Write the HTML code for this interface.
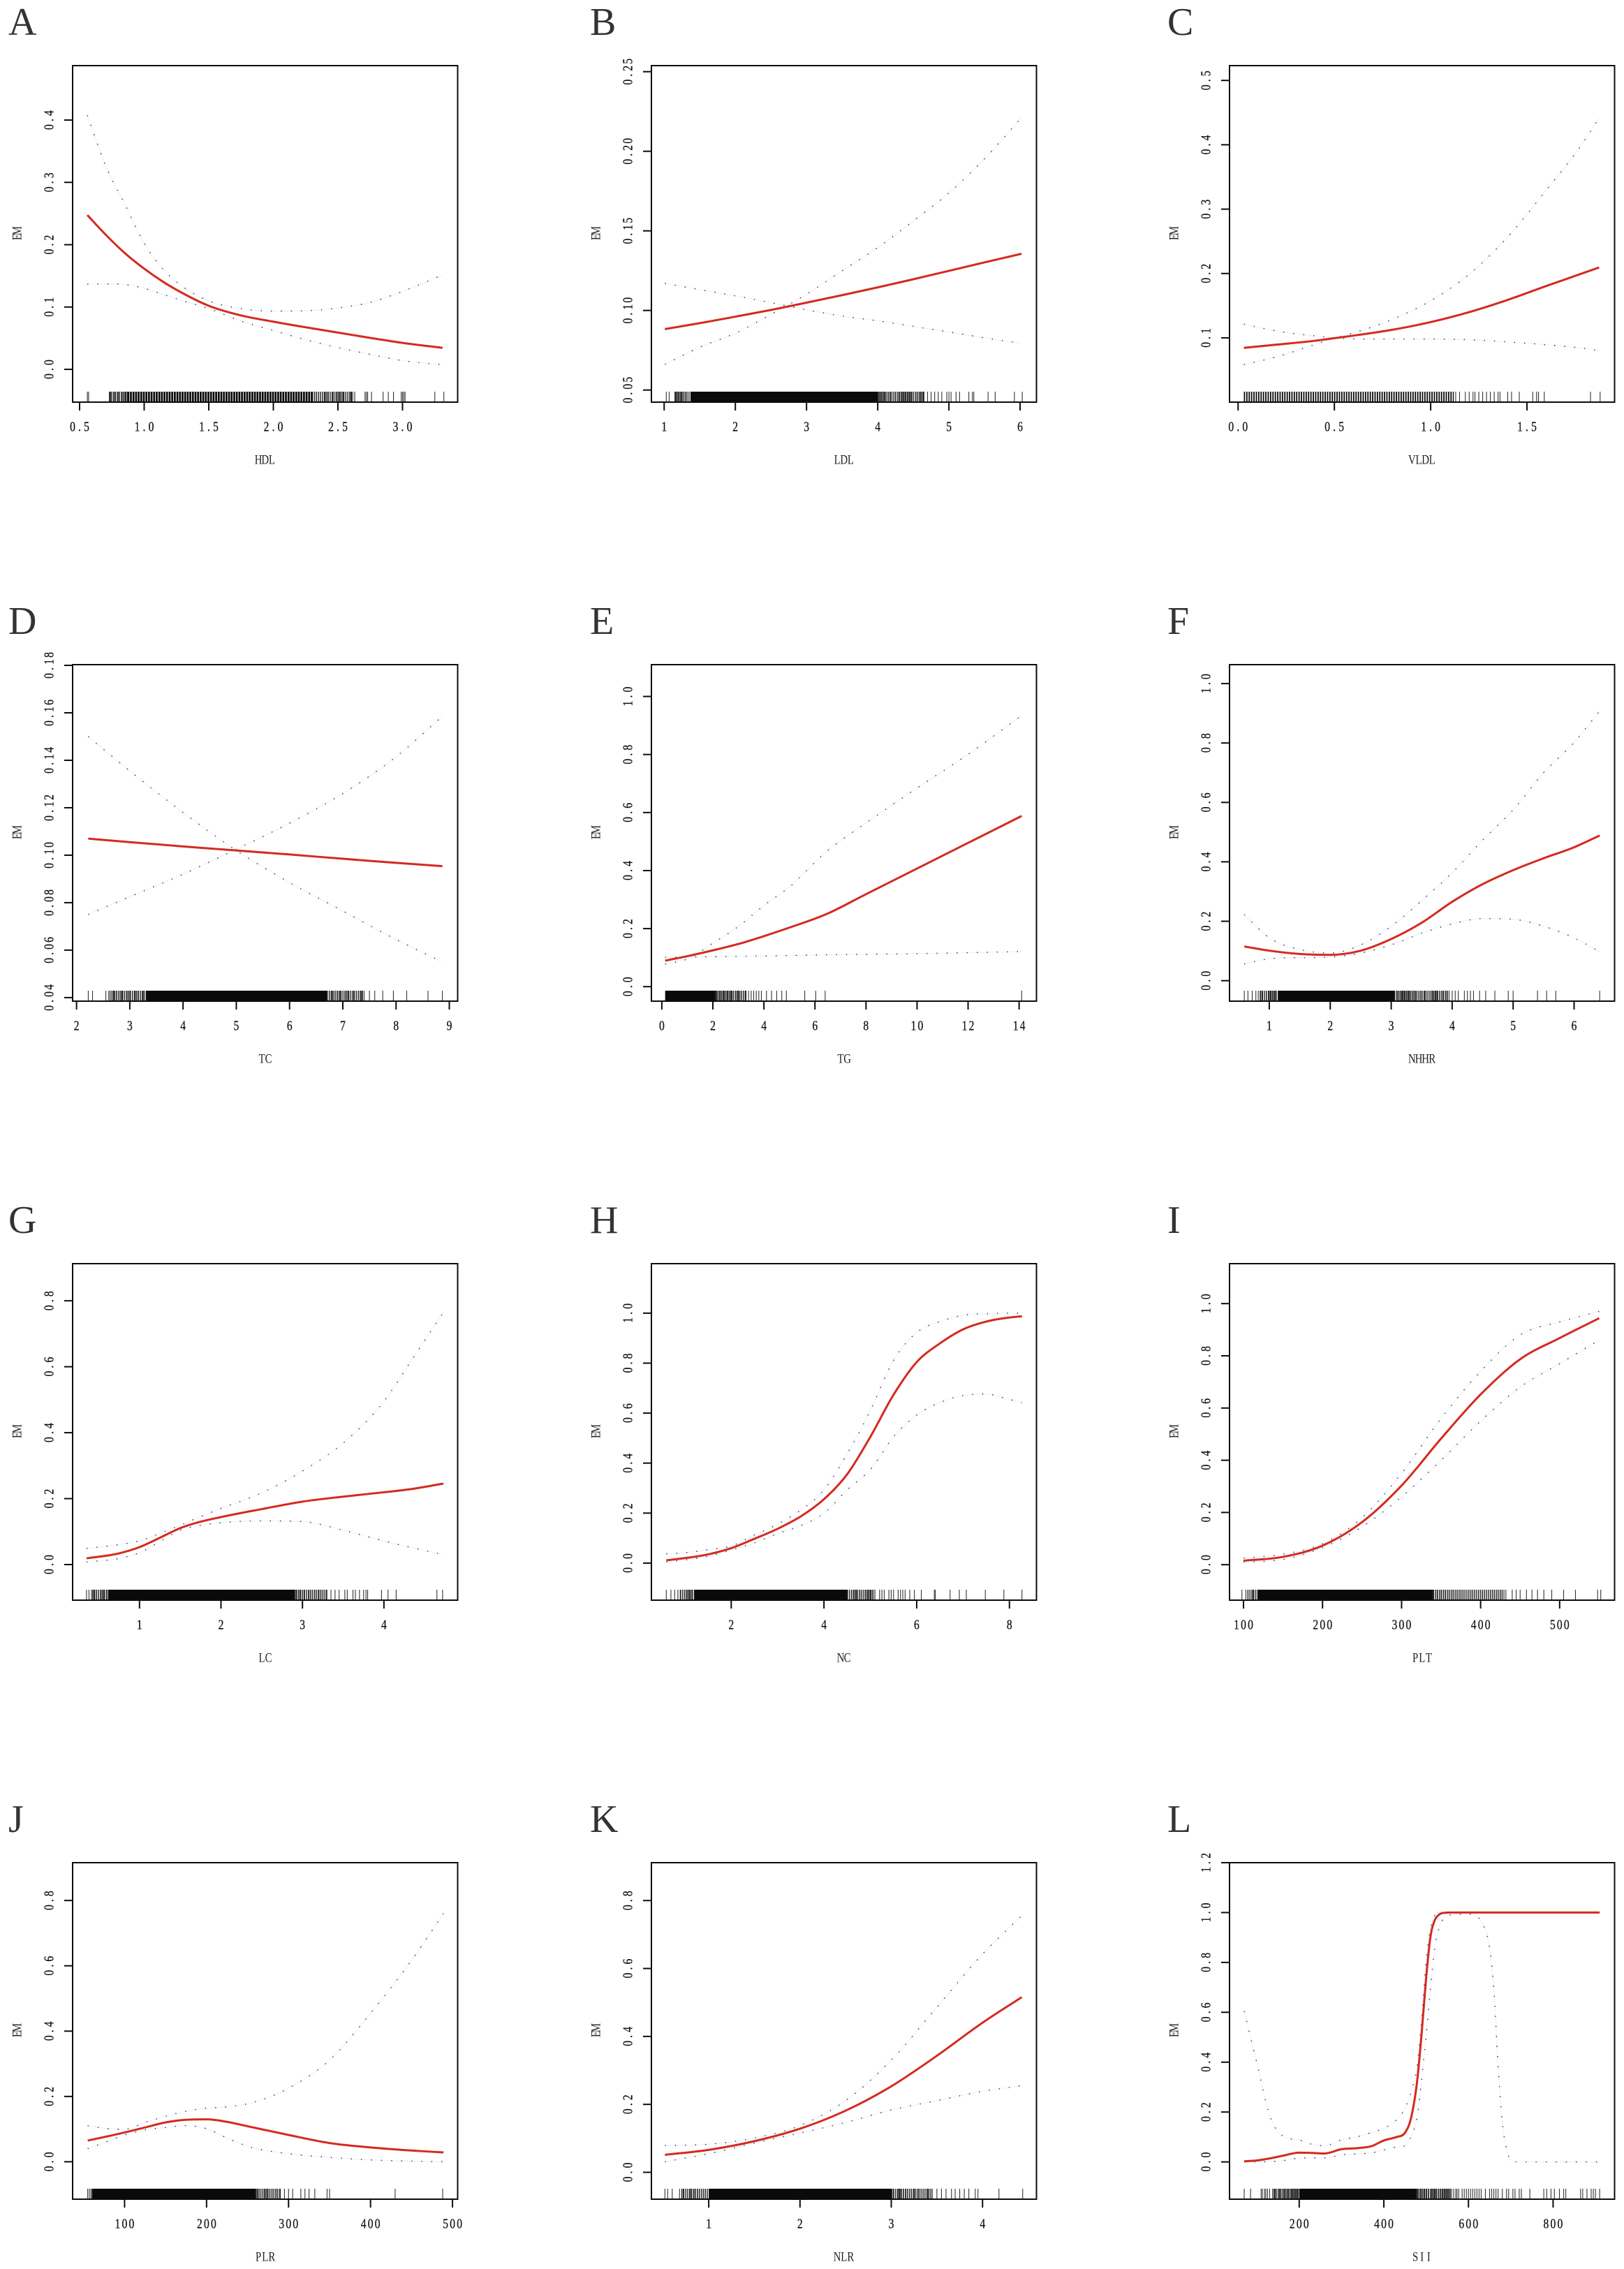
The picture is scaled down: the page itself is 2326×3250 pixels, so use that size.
<!DOCTYPE html>
<html lang="en">
<head>
<meta charset="utf-8">
<title>EM restricted cubic spline panels</title>
<style>
html,body{margin:0;padding:0;background:#fff}
svg{display:block}
text{font-family:"Liberation Serif",serif}
</style>
</head>
<body>
<svg id="figure" xmlns="http://www.w3.org/2000/svg" width="2326" height="3250" viewBox="0 0 2326 3250">
<rect x="0" y="0" width="2326" height="3250" fill="#ffffff"/>
</svg>
<script>
/* ---------- A: HDL ---------- */
const hdlXLim=[0.446,3.427];
const hdlYLim=[-0.0526,0.4873];
const hdlXTicks=['0.5','1.0','1.5','2.0','2.5','3.0'];
const hdlYTicks=['0.0','0.1','0.2','0.3','0.4'];
const hdlX=[0.56,0.7,0.85,1.0,1.15,1.3,1.5,1.75,2,2.25,2.5,2.75,3,3.31];
const hdlFit=[0.2475,0.2165,0.1865,0.1615,0.14,0.122,0.102,0.0865,0.0765,0.0675,0.0590,0.0505,0.0425,0.0345];
const hdlUpper=[0.4075,0.3275,0.265,0.2025,0.16,0.1325,0.11,0.0975,0.0935,0.094,0.0985,0.1075,0.125,0.1515];
const hdlLower=[0.1365,0.137,0.136,0.13,0.12,0.11,0.0975,0.0775,0.0625,0.0475,0.035,0.024,0.014,0.0075];
const hdlRug=[0.56,0.57,0.73,0.74,0.75,0.77,0.78,0.80,0.81,0.83,0.85,0.86,2.32,2.35,2.38,2.40,2.41,2.42,2.44,2.46,2.47,2.49,2.51,2.52,2.53,2.54,2.56,2.59,2.60,2.61,2.63,2.71,2.72,2.73,2.76,2.85,2.89,2.93,2.99,3.0,3.01,3.02,3.25,3.32];
const hdlBands=[[0.87,2.30]];
const hdlFringes=[[0.73,0.87],[2.3,2.62]];

/* ---------- B: LDL ---------- */
const ldlXLim=[0.821,6.23];
const ldlYLim=[0.0424,0.2538];
const ldlXTicks=['1','2','3','4','5','6'];
const ldlYTicks=['0.05','0.10','0.15','0.20','0.25'];
const ldlX=[1.01,1.5,2,2.5,3,3.5,4,4.5,5,5.5,6.02];
const ldlFit=[0.0883,0.092,0.0961,0.1003,0.1049,0.1096,0.1145,0.1196,0.1249,0.1302,0.1356];
const ldlUpper=[0.0661,0.0769,0.0857,0.0975,0.1102,0.1249,0.1395,0.1562,0.1738,0.1953,0.2211];
const ldlLower=[0.117,0.1131,0.1092,0.1049,0.1004,0.0965,0.0935,0.09,0.0865,0.0828,0.0793];
const ldlRug=[1.03,1.07,1.15,1.17,1.2,1.23,1.25,1.27,1.3,1.32,1.35,4.02,4.05,4.08,4.1,4.12,4.15,4.18,4.2,4.23,4.25,4.28,4.3,4.33,4.35,4.38,4.4,4.43,4.46,4.48,4.5,4.55,4.58,4.6,4.63,4.65,4.7,4.75,4.8,4.85,4.9,4.97,5.0,5.03,5.1,5.15,5.28,5.33,5.35,5.55,5.65,5.92,6.03];
const ldlBands=[[1.37,4.0]];
const ldlFringes=[[1.15,1.37],[4.0,4.65]];

/* ---------- C: VLDL ---------- */
const vldlXLim=[-0.0445,1.955];
const vldlYLim=[0.0001,0.523];
const vldlXTicks=['0.0','0.5','1.0','1.5'];
const vldlYTicks=['0.1','0.2','0.3','0.4','0.5'];
const vldlX=[0.03,0.2,0.4,0.5,0.6,0.8,1,1.2,1.4,1.6,1.8,1.875];
const vldlFit=[0.0845,0.0895,0.0955,0.0995,0.1035,0.1125,0.1245,0.14,0.159,0.1805,0.2015,0.2094];
const vldlUpper=[0.0584,0.0705,0.0898,0.0995,0.1077,0.1286,0.1576,0.1988,0.2569,0.3295,0.407,0.4419];
const vldlLower=[0.1213,0.1107,0.1029,0.1,0.0985,0.0981,0.0981,0.0971,0.0937,0.0893,0.0835,0.0801];
const vldlRug=[1.13,1.15,1.18,1.2,1.22,1.23,1.25,1.27,1.29,1.31,1.33,1.35,1.36,1.4,1.42,1.46,1.53,1.55,1.56,1.59,1.83,1.88];
const vldlBands=[[0.03,1.12]];
const vldlFringes=[];

/* ---------- D: TC ---------- */
const tcXLim=[1.926,9.157];
const tcYLim=[0.0385,0.1803];
const tcXTicks=['2','3','4','5','6','7','8','9'];
const tcYTicks=['0.04','0.06','0.08','0.10','0.12','0.14','0.16','0.18'];
const tcX=[2.22,3,4,5,6,7,8,8.87];
const tcFit=[0.107,0.1055,0.1037,0.102,0.1003,0.0985,0.0968,0.0954];
const tcUpper=[0.075,0.0825,0.092,0.1025,0.1135,0.126,0.1415,0.1585];
const tcLower=[0.15,0.1355,0.118,0.102,0.0885,0.0765,0.0645,0.055];
const tcRug=[2.22,2.3,2.55,2.65,2.7,2.75,2.8,2.85,2.9,2.95,3,3.05,3.1,3.15,3.2,3.25,6.75,6.8,6.85,6.9,6.95,7,7.05,7.1,7.15,7.2,7.3,7.35,7.4,7.5,7.6,7.75,7.95,8.2,8.6,8.87];
const tcBands=[[3.3,6.7]];
const tcFringes=[[2.6,3.3],[6.7,7.4]];

/* ---------- E: TG ---------- */
const tgXLim=[-0.408,14.68];
const tgYLim=[-0.05,1.1096];
const tgXTicks=['0','2','4','6','8','10','12','14'];
const tgYTicks=['0.0','0.2','0.4','0.6','0.8','1.0'];
const tgX=[0.13,1,2,3,4,5,6.43,8,10,12,14.1];
const tgFit=[0.0897,0.105,0.125,0.147,0.174,0.2035,0.2492,0.3186,0.407,0.4954,0.5881];
const tgUpper=[0.0777,0.0954,0.1498,0.2075,0.2796,0.3438,0.4639,0.5641,0.6843,0.8005,0.9343];
const tgLower=[0.101,0.1018,0.1034,0.1042,0.1058,0.1074,0.1098,0.1114,0.1138,0.117,0.121];
const tgRug=[2.15,2.2,2.25,2.3,2.35,2.4,2.45,2.5,2.55,2.6,2.65,2.7,2.75,2.8,2.9,2.95,3.0,3.1,3.2,3.3,3.4,3.5,3.6,3.7,3.8,3.9,4.1,4.3,4.5,4.7,4.88,5.6,6.03,6.4,14.1];
const tgBands=[[0.13,2.1]];
const tgFringes=[[2.1,3.3]];

/* ---------- F: NHHR ---------- */
const nhhrXLim=[0.348,6.664];
const nhhrYLim=[-0.0689,1.0637];
const nhhrXTicks=['1','2','3','4','5','6'];
const nhhrYTicks=['0.0','0.2','0.4','0.6','0.8','1.0'];
const nhhrX=[0.59,1,1.5,2,2.5,3,3.5,4,4.5,5,5.5,6,6.42];
const nhhrFit=[0.1151,0.1010,0.0900,0.0869,0.1010,0.1402,0.1950,0.2655,0.325,0.372,0.412,0.449,0.4886];
const nhhrUpper=[0.2224,0.1441,0.1049,0.0932,0.1206,0.1832,0.2694,0.3634,0.473,0.5748,0.7001,0.8019,0.9076];
const nhhrLower=[0.0564,0.0736,0.0775,0.0791,0.0932,0.1206,0.1597,0.1911,0.2091,0.2067,0.1832,0.1441,0.0971];
const nhhrRug=[0.59,0.65,0.72,0.78,0.82,0.85,0.88,0.92,0.95,1.0,1.03,1.07,1.1,3.1,3.13,3.17,3.2,3.23,3.27,3.3,3.34,3.37,3.4,3.44,3.47,3.5,3.55,3.6,3.64,3.68,3.72,3.75,3.8,3.85,3.9,3.95,4,4.05,4.1,4.2,4.25,4.3,4.35,4.45,4.55,4.7,4.92,5,5.4,5.55,5.7,6.42];
const nhhrBands=[[1.15,3.05]];
const nhhrFringes=[[0.85,1.15],[3.05,3.95]];

/* ---------- G: LC ---------- */
const lcXLim=[0.179,4.905];
const lcYLim=[-0.108,0.9126];
const lcXTicks=['1','2','3','4'];
const lcYTicks=['0.0','0.2','0.4','0.6','0.8'];
const lcX=[0.35,0.75,1,1.25,1.5,1.75,2,2.5,3,3.5,4,4.35,4.73];
const lcFit=[0.0189,0.034,0.0529,0.0813,0.1105,0.13,0.144,0.1682,0.1909,0.206,0.2193,0.2295,0.2457];
const lcUpper=[0.0491,0.0605,0.0718,0.0945,0.1191,0.1456,0.1701,0.2174,0.2836,0.3686,0.4953,0.6238,0.7656];
const lcLower=[0.0076,0.0189,0.0359,0.0699,0.104,0.1191,0.1267,0.1323,0.1304,0.104,0.0718,0.051,0.0302];
const lcRug=[0.35,0.38,0.41,0.44,0.47,0.5,0.53,0.56,0.6,2.92,2.95,2.97,3,3.02,3.05,3.08,3.12,3.15,3.2,3.22,3.3,3.35,3.4,3.45,3.52,3.55,3.62,3.65,3.7,3.75,3.78,3.8,3.97,4.05,4.15,4.65,4.72];
const lcBands=[[0.62,2.9]];
const lcFringes=[[0.42,0.62],[2.9,3.3]];

/* ---------- H: NC ---------- */
const ncXLim=[0.279,8.583];
const ncYLim=[-0.1483,1.198];
const ncXTicks=['2','4','6','8'];
const ncYTicks=['0.0','0.2','0.4','0.6','0.8','1.0'];
const ncX=[0.6,1,1.5,2,2.5,3,3.5,4,4.5,5,5.5,6,6.5,7,7.5,8,8.27];
const ncFit=[0.0112,0.02,0.0349,0.0599,0.0973,0.1372,0.187,0.2556,0.3554,0.505,0.6733,0.8042,0.879,0.9352,0.9663,0.9825,0.9875];
const ncUpper=[0.0374,0.0411,0.0536,0.0686,0.1122,0.1559,0.212,0.293,0.4364,0.611,0.8105,0.9227,0.9663,0.9913,0.9975,1,1];
const ncLower=[0.005,0.0125,0.0274,0.0524,0.081,0.1185,0.1496,0.1995,0.293,0.3741,0.505,0.5923,0.6421,0.6708,0.6758,0.6546,0.6421];
const ncRug=[0.6,0.7,0.78,0.85,0.9,0.95,1,1.05,1.1,1.15,4.55,4.6,4.65,4.7,4.8,4.85,4.9,4.95,5,5.05,5.1,5.2,5.25,5.3,5.4,5.45,5.5,5.6,5.65,5.7,5.75,5.85,5.95,6.1,6.38,6.4,6.72,6.92,7.07,7.48,7.88,8.27];
const ncBands=[[1.2,4.5]];
const ncFringes=[[0.9,1.2],[4.5,5.1]];

/* ---------- I: PLT ---------- */
const pltXLim=[82.3,569.5];
const pltYLim=[-0.136,1.153];
const pltXTicks=['100','200','300','400','500'];
const pltYTicks=['0.0','0.2','0.4','0.6','0.8','1.0'];
const pltX=[100,150,200,250,300,350,400,450,500,550];
const pltFit=[0.015,0.03,0.073,0.163,0.303,0.483,0.652,0.787,0.868,0.944];
const pltUpper=[0.025,0.04,0.08,0.18,0.35,0.56,0.74,0.88,0.93,0.97];
const pltLower=[0.01,0.02,0.065,0.145,0.26,0.40,0.55,0.68,0.77,0.86];
const pltRug=[98,103,108,112,345,350,355,360,365,370,375,380,385,390,395,400,405,410,415,420,425,432,440,445,450,458,465,472,480,490,505,520,548,552];
const pltBands=[[118,340]];
const pltFringes=[[105,118],[340,430]];

/* ---------- J: PLR ---------- */
const plrXLim=[36.6,506.3];
const plrYLim=[-0.1146,0.9158];
const plrXTicks=['100','200','300','400','500'];
const plrYTicks=['0.0','0.2','0.4','0.6','0.8'];
const plrX=[55,80,100,125,150,175,200,225,250,300,350,400,450,489];
const plrFit=[0.0649,0.0783,0.0897,0.105,0.1205,0.1285,0.1298,0.1222,0.1088,0.0821,0.0573,0.0439,0.0344,0.0286];
const plrUpper=[0.1107,0.1012,0.0993,0.1203,0.1394,0.1547,0.1642,0.168,0.1776,0.2253,0.3112,0.4544,0.6167,0.7599];
const plrLower=[0.0401,0.063,0.0821,0.0974,0.105,0.1107,0.1012,0.0726,0.0477,0.0248,0.0134,0.0057,0.0019,0];
const plrRug=[55,57,59,262,265,268,271,274,277,280,282,285,290,295,300,305,315,320,325,332,347,350,430,488];
const plrBands=[[60,260]];
const plrFringes=[[260,290]];

/* ---------- K: NLR ---------- */
const nlrXLim=[0.372,4.591];
const nlrYLim=[-0.0791,0.9115];
const nlrXTicks=['1','2','3','4'];
const nlrYTicks=['0.0','0.2','0.4','0.6','0.8'];
const nlrX=[0.52,1,1.5,2,2.5,3,3.5,4,4.43];
const nlrFit=[0.0514,0.0661,0.0917,0.1284,0.1815,0.2532,0.3431,0.4404,0.5156];
const nlrUpper=[0.0789,0.0826,0.1009,0.1376,0.211,0.3303,0.4862,0.6422,0.756];
const nlrLower=[0.0312,0.055,0.0862,0.1156,0.1468,0.1835,0.211,0.2385,0.255];
const nlrRug=[0.52,0.55,0.6,0.68,0.72,0.75,0.8,0.84,0.88,0.92,0.96,3.02,3.05,3.08,3.1,3.13,3.16,3.2,3.25,3.3,3.35,3.4,3.45,3.5,3.55,3.6,3.66,3.7,3.75,3.8,3.85,3.92,3.95,4.18,4.44];
const nlrBands=[[1.0,3.0]];
const nlrFringes=[[0.7,1.0],[3.0,3.45]];

/* ---------- L: SII ---------- */
const siiXLim=[35.3,945.3];
const siiYLim=[-0.1495,1.2];
const siiXTicks=['200','400','600','800'];
const siiYTicks=['0.0','0.2','0.4','0.6','0.8','1.0','1.2'];
const siiX=[70,100,130,160,200,230,260,300,340,370,400,430,450,465,480,490,500,510,520,530,545,560,600,640,660,670,680,690,700,720,800,910];
const siiFit=[0.0023,0.0058,0.0139,0.0244,0.0371,0.036,0.0337,0.051,0.0557,0.0627,0.0859,0.0998,0.1172,0.181,0.3435,0.5292,0.7381,0.9006,0.9679,0.991,0.9992,1,1,1,1,1,1,1,1,1,1,1];
const siiUpper=[0.6046,0.3957,0.1868,0.1056,0.0882,0.0708,0.065,0.0882,0.1021,0.1172,0.1346,0.1694,0.2159,0.2855,0.4015,0.5872,0.8077,0.9354,0.9876,0.9992,1,1,1,1,1,1,1,1,1,1,1,1];
const siiLower=[0,0,0.0012,0.0046,0.0151,0.0162,0.0162,0.0279,0.0325,0.036,0.0476,0.0592,0.065,0.1056,0.1926,0.3435,0.506,0.6917,0.8541,0.9354,0.9818,0.9911,0.9934,0.9296,0.6917,0.3899,0.1578,0.0534,0.007,0,0,0];
const siiRug=[70,85,110,113,118,121,125,130,137,140,143,146,150,153,156,160,163,166,169,172,175,178,181,185,188,190,193,195,198,480,483,486,489,492,495,500,505,510,513,518,522,525,530,535,540,545,550,555,560,565,570,573,577,585,590,595,600,605,610,615,620,625,630,640,650,655,660,665,670,680,690,695,705,710,720,725,745,778,785,795,803,815,825,830,865,870,880,890,895,900,910];
const siiBands=[[200,477]];
const siiFringes=[[140,200],[477,560]];

/* ---------- panel registry ---------- */
const panels=[
 {letter:'A',title:'HDL',col:0,row:0,hatch:'2.7 1',xLim:hdlXLim,yLim:hdlYLim,xTicks:hdlXTicks,yTicks:hdlYTicks,x:hdlX,fit:hdlFit,upper:hdlUpper,lower:hdlLower,rug:hdlRug,bands:hdlBands,fringes:hdlFringes},
 {letter:'B',title:'LDL',col:1,row:0,hatch:'',xLim:ldlXLim,yLim:ldlYLim,xTicks:ldlXTicks,yTicks:ldlYTicks,x:ldlX,fit:ldlFit,upper:ldlUpper,lower:ldlLower,rug:ldlRug,bands:ldlBands,fringes:ldlFringes},
 {letter:'C',title:'VLDL',col:2,row:0,hatch:'1.8 1.6',xLim:vldlXLim,yLim:vldlYLim,xTicks:vldlXTicks,yTicks:vldlYTicks,x:vldlX,fit:vldlFit,upper:vldlUpper,lower:vldlLower,rug:vldlRug,bands:vldlBands,fringes:vldlFringes},
 {letter:'D',title:'TC',col:0,row:1,hatch:'',xLim:tcXLim,yLim:tcYLim,xTicks:tcXTicks,yTicks:tcYTicks,x:tcX,fit:tcFit,upper:tcUpper,lower:tcLower,rug:tcRug,bands:tcBands,fringes:tcFringes},
 {letter:'E',title:'TG',col:1,row:1,hatch:'',xLim:tgXLim,yLim:tgYLim,xTicks:tgXTicks,yTicks:tgYTicks,x:tgX,fit:tgFit,upper:tgUpper,lower:tgLower,rug:tgRug,bands:tgBands,fringes:tgFringes},
 {letter:'F',title:'NHHR',col:2,row:1,hatch:'',xLim:nhhrXLim,yLim:nhhrYLim,xTicks:nhhrXTicks,yTicks:nhhrYTicks,x:nhhrX,fit:nhhrFit,upper:nhhrUpper,lower:nhhrLower,rug:nhhrRug,bands:nhhrBands,fringes:nhhrFringes},
 {letter:'G',title:'LC',col:0,row:2,hatch:'',xLim:lcXLim,yLim:lcYLim,xTicks:lcXTicks,yTicks:lcYTicks,x:lcX,fit:lcFit,upper:lcUpper,lower:lcLower,rug:lcRug,bands:lcBands,fringes:lcFringes},
 {letter:'H',title:'NC',col:1,row:2,hatch:'',xLim:ncXLim,yLim:ncYLim,xTicks:ncXTicks,yTicks:ncYTicks,x:ncX,fit:ncFit,upper:ncUpper,lower:ncLower,rug:ncRug,bands:ncBands,fringes:ncFringes},
 {letter:'I',title:'PLT',col:2,row:2,hatch:'',xLim:pltXLim,yLim:pltYLim,xTicks:pltXTicks,yTicks:pltYTicks,x:pltX,fit:pltFit,upper:pltUpper,lower:pltLower,rug:pltRug,bands:pltBands,fringes:pltFringes},
 {letter:'J',title:'PLR',col:0,row:3,hatch:'',xLim:plrXLim,yLim:plrYLim,xTicks:plrXTicks,yTicks:plrYTicks,x:plrX,fit:plrFit,upper:plrUpper,lower:plrLower,rug:plrRug,bands:plrBands,fringes:plrFringes},
 {letter:'K',title:'NLR',col:1,row:3,hatch:'',xLim:nlrXLim,yLim:nlrYLim,xTicks:nlrXTicks,yTicks:nlrYTicks,x:nlrX,fit:nlrFit,upper:nlrUpper,lower:nlrLower,rug:nlrRug,bands:nlrBands,fringes:nlrFringes},
 {letter:'L',title:'SII',col:2,row:3,hatch:'',xLim:siiXLim,yLim:siiYLim,xTicks:siiXTicks,yTicks:siiYTicks,x:siiX,fit:siiFit,upper:siiUpper,lower:siiLower,rug:siiRug,bands:siiBands,fringes:siiFringes}
];

/* ---------- layout constants ---------- */
const svg=document.getElementById('figure');
const NS='http://www.w3.org/2000/svg';
const colLeft=[104,933,1761];
const rowTop=[94,952,1810,2668];
const letterLeft=[12,845,1672];
const PW=551.5, PH=482, TICK=12, RUG=15, SX=0.78;

function mk(parent,tag,attrs){
  const el=document.createElementNS(NS,tag);
  for(const k in attrs) el.setAttribute(k,attrs[k]);
  parent.appendChild(el);
  return el;
}
/* evenly pitched, slightly condensed characters like the narrow half-width original font */
function pitchedText(parent,str,cx,cy,rot,pitch,size,fill,weight){
  const offs=[];
  for(let i=0;i<str.length;i++) offs.push(((i-(str.length-1)/2)*pitch/SX).toFixed(2));
  const el=mk(parent,'text',{
    x:offs.join(' '),
    y:(size*0.335).toFixed(2),
    'text-anchor':'middle',
    'font-size':size,
    fill:fill,
    stroke:fill,
    'stroke-width':weight,
    transform:`translate(${cx} ${cy}) rotate(${rot}) scale(${SX} 1)`
  });
  el.textContent=str;
  return el;
}
/* smooth, non-overshooting cubic through pixel points (Fritsch-Carlson) */
function smoothPath(pts){
  const n=pts.length, d=[], m=new Array(n);
  for(let i=0;i<n-1;i++) d.push((pts[i+1][1]-pts[i][1])/(pts[i+1][0]-pts[i][0]));
  m[0]=d[0]; m[n-1]=d[n-2];
  for(let i=1;i<n-1;i++){
    const h0=pts[i][0]-pts[i-1][0], h1=pts[i+1][0]-pts[i][0];
    m[i]=d[i-1]*d[i]<=0 ? 0 : (d[i-1]*h1+d[i]*h0)/(h0+h1);
  }
  for(let i=0;i<n-1;i++){
    if(d[i]===0){m[i]=0;m[i+1]=0;continue;}
    const a=m[i]/d[i], b=m[i+1]/d[i], s=a*a+b*b;
    if(s>9){const t=3/Math.sqrt(s);m[i]=t*a*d[i];m[i+1]=t*b*d[i];}
  }
  let s=`M${pts[0][0].toFixed(2)} ${pts[0][1].toFixed(2)}`;
  for(let i=0;i<n-1;i++){
    const h=(pts[i+1][0]-pts[i][0])/3;
    s+=`C${(pts[i][0]+h).toFixed(2)} ${(pts[i][1]+m[i]*h).toFixed(2)} ${(pts[i+1][0]-h).toFixed(2)} ${(pts[i+1][1]-m[i+1]*h).toFixed(2)} ${pts[i+1][0].toFixed(2)} ${pts[i+1][1].toFixed(2)}`;
  }
  return s;
}

panels.forEach(function(p){
  const L=colLeft[p.col], T=rowTop[p.row], B=T+PH, R=L+PW;
  const key=p.title.toLowerCase();
  const xs=v=>L+(v-p.xLim[0])/(p.xLim[1]-p.xLim[0])*PW;
  const ys=v=>B-(v-p.yLim[0])/(p.yLim[1]-p.yLim[0])*PH;

  const g=mk(svg,'g',{});
  
  

  const letter=mk(g,'text',{x:letterLeft[p.col],y:50+858*p.row,'font-size':56,fill:'#333'});
  letter.textContent=p.letter;
  
  

  /* rug fringes: semi-dense stretches around the solid band */
  p.fringes.forEach(function(b){
    const fringe=mk(g,'line',{x1:xs(b[0]).toFixed(2),x2:xs(b[1]).toFixed(2),y1:B-RUG/2,y2:B-RUG/2,stroke:'#1c1c1c','stroke-width':RUG,'stroke-dasharray':'1.4 1.4'});
    
    
  });
  /* rug bands */
  p.bands.forEach(function(b){
    const band=mk(g,'line',{x1:xs(b[0]).toFixed(2),x2:xs(b[1]).toFixed(2),y1:B-RUG/2,y2:B-RUG/2,stroke:'#0a0a0a','stroke-width':RUG});
    if(p.hatch) band.setAttribute('stroke-dasharray',p.hatch);
    
    
  });
  /* rug ticks */
  p.rug.forEach(function(v){
    const px=xs(v).toFixed(2);
    const t=mk(g,'line',{x1:px,x2:px,y1:B-RUG,y2:B,stroke:'#333','stroke-width':1.1});
    
    
  });

  /* confidence limits */
  [['upper',p.upper],['lower',p.lower]].forEach(function(c){
    const pts=p.x.map((v,i)=>[xs(v),ys(c[1][i])]);
    const dp=smoothPath(pts);
    const faint=mk(g,'path',{d:dp,fill:'none',stroke:'#c3cbe0','stroke-width':1,'stroke-dasharray':'1 2.5'});
    
    
    const dots=mk(g,'path',{d:dp,fill:'none',stroke:'#2c3d7c','stroke-width':1.6,'stroke-dasharray':'1.4 13'});
    
    
  });

  /* fitted curve */
  const fitPts=p.x.map((v,i)=>[xs(v),ys(p.fit[i])]);
  const fit=mk(g,'path',{d:smoothPath(fitPts),fill:'none',stroke:'#d42a1f','stroke-width':3,'stroke-linecap':'butt','stroke-linejoin':'round'});
  
  

  /* plot box */
  const box=mk(g,'rect',{x:L,y:T,width:PW,height:PH,fill:'none',stroke:'#0c0c0c','stroke-width':2});
  
  

  /* x axis */
  p.xTicks.forEach(function(lab){
    const px=xs(Number(lab)).toFixed(2);
    const t=mk(g,'line',{x1:px,x2:px,y1:B,y2:B+TICK,stroke:'#0c0c0c','stroke-width':2});
    
    
    const tl=pitchedText(g,lab,px,B+35,0,10,20,'#111',0.3);
    
    
  });
  /* y axis */
  p.yTicks.forEach(function(lab){
    const py=ys(Number(lab)).toFixed(2);
    const t=mk(g,'line',{x1:L-TICK,x2:L,y1:py,y2:py,stroke:'#0c0c0c','stroke-width':2});
    
    
    const tl=pitchedText(g,lab,L-34,py,-90,10,20,'#111',0.3);
    
    
  });

  /* axis titles */
  const xt=pitchedText(g,p.title,(L+R)/2,B+82,0,9.6,19,'#222',0);
  
  
  const yt=pitchedText(g,'EM',L-80,(T+B)/2,-90,9,19,'#222',0);
  
  
});
</script>
</body>
</html>
